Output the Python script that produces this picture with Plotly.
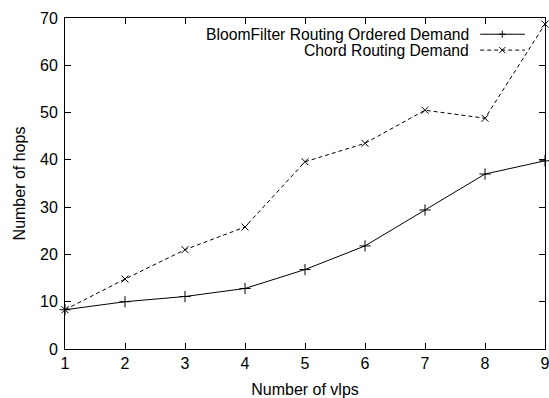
import plotly.graph_objects as go

vlps = [1, 2, 3, 4, 5, 6, 7, 8, 9]
bloom_hops = [8.3, 10.0, 11.1, 12.8, 16.8, 21.8, 29.4, 37.0, 39.8]
chord_hops = [8.3, 14.8, 21.0, 25.8, 39.6, 43.5, 50.5, 48.8, 68.7]
series_names = ["BloomFilter Routing Ordered Demand", "Chord Routing Demand"]
x_ticks = [1, 2, 3, 4, 5, 6, 7, 8, 9]
y_ticks = [0, 10, 20, 30, 40, 50, 60, 70]

FONT = "Liberation Sans, Arial, Helvetica, sans-serif"
FS = 16

fig = go.Figure()
fig.add_trace(go.Scatter(
    x=vlps, y=bloom_hops, mode="lines+markers", name=series_names[0],
    line=dict(color="black", width=1),
    marker=dict(symbol="cross-thin", size=8, line=dict(color="black", width=1)),
    showlegend=False, cliponaxis=False,
))
fig.add_trace(go.Scatter(
    x=vlps, y=chord_hops, mode="lines+markers", name=series_names[1],
    line=dict(color="black", width=1, dash="4px,3px"),
    marker=dict(symbol="x-thin", size=7, line=dict(color="black", width=1)),
    showlegend=False, cliponaxis=False,
))

# gnuplot-style legend: right-aligned text with line samples on the right
rows_y = [0.951, 0.903]
dashes = ["solid", "4px,3px"]
for i, (name, yy) in enumerate(zip(series_names, rows_y)):
    fig.add_annotation(
        x=0.845, y=yy, xref="paper", yref="paper", text=name, showarrow=False,
        xanchor="right", yanchor="middle", font=dict(family=FONT, size=15.7, color="black"),
    )
    fig.add_shape(type="line", xref="paper", yref="paper", x0=0.865, x1=0.958, y0=yy, y1=yy,
                  line=dict(color="black", width=1, dash=dashes[i]))
    cx = 0.911
    if i == 0:
        segs = [(-3.5, 0, 3.5, 0), (0, -3.5, 0, 3.5)]
    else:
        segs = [(-3, -3, 3, 3), (-3, 3, 3, -3)]
    for (ax0, ay0, ax1, ay1) in segs:
        fig.add_shape(type="line", xref="paper", yref="paper",
                      xsizemode="pixel", ysizemode="pixel", xanchor=cx, yanchor=yy,
                      x0=ax0, x1=ax1, y0=ay0, y1=ay1,
                      line=dict(color="black", width=1))

axis_common = dict(
    showline=True, linecolor="black", linewidth=1, mirror="allticks",
    ticks="inside", ticklen=6, tickwidth=1, tickcolor="black",
    showgrid=False, zeroline=False, automargin=False, ticklabeloverflow="allow",
    tickfont=dict(family=FONT, size=FS, color="black"),
)
fig.update_xaxes(range=[1, 9], tickvals=x_ticks, title=dict(text="Number of vlps", standoff=13,
                 font=dict(family=FONT, size=FS, color="black")), **axis_common)
fig.update_yaxes(range=[0, 70], tickvals=y_ticks, ticklabelstandoff=3,
                 title=dict(text="Number of hops", standoff=10,
                 font=dict(family=FONT, size=FS, color="black")), **axis_common)

fig.update_layout(
    width=549, height=398,
    margin=dict(l=64.5, r=4, t=18, b=48.5, pad=0),
    paper_bgcolor="white", plot_bgcolor="white",
    font=dict(family=FONT, size=FS, color="black"),
)
fig.write_html(
    "out.html",
    config={"displayModeBar": False},
    post_script="document.body.style.margin='0';document.body.style.overflow='hidden';",
)
